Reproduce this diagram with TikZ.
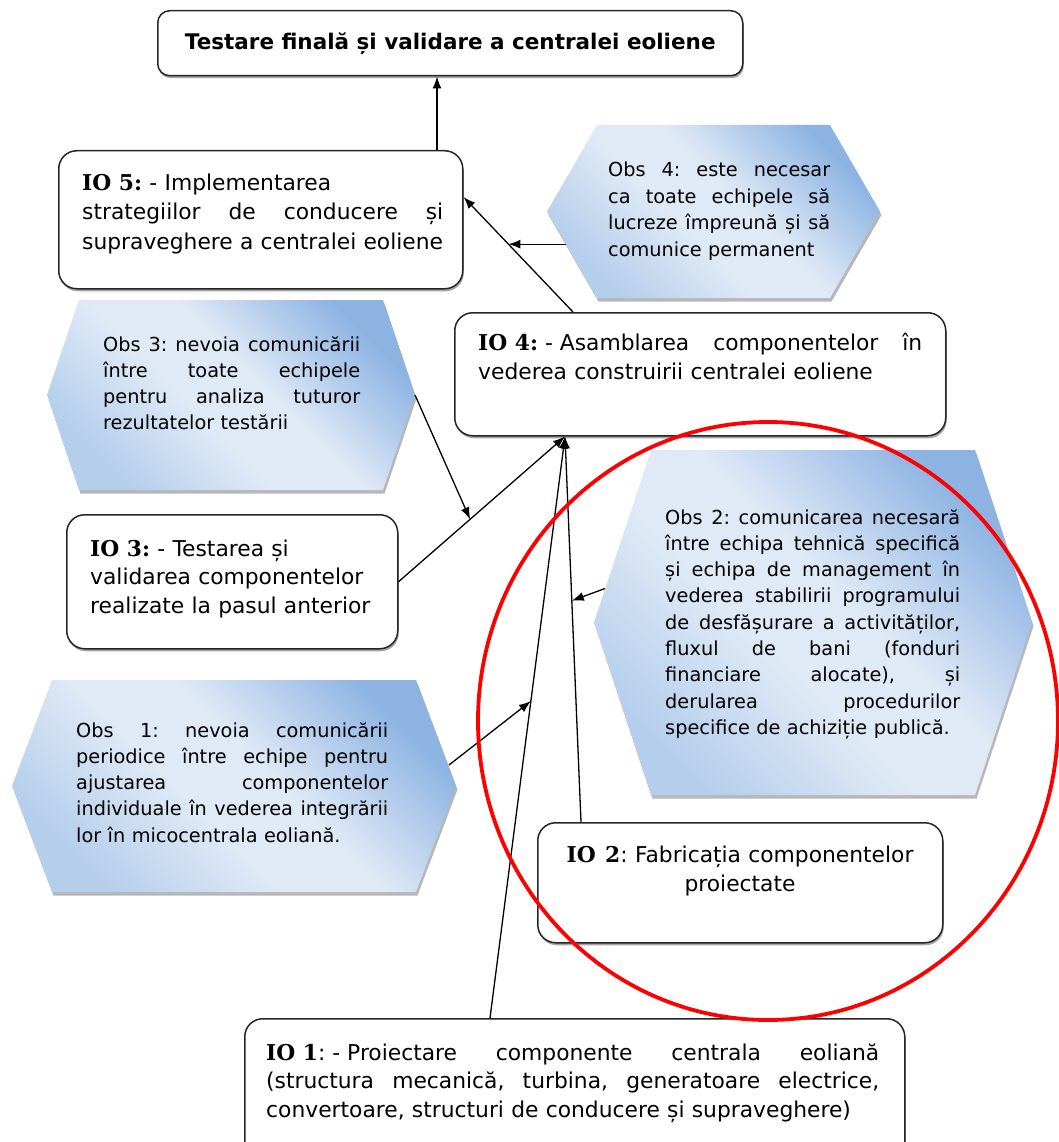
\documentclass[tikz,border=0pt]{standalone}
\usepackage{fontspec}
\setmainfont{DejaVu Sans}
\newfontfamily\iofont{DejaVu Serif}
\usetikzlibrary{arrows.meta,shadows,calc}

\definecolor{obsdark}{HTML}{8DB3E2}
\definecolor{obslight}{HTML}{E0EAF6}
\definecolor{obsmid}{HTML}{B4CEEC}
\definecolor{boxline}{HTML}{262626}

% diagonal gradient of the observation hexagons
\pgfdeclarehorizontalshading{obsshade}{100bp}{color(0bp)=(obsmid); color(25bp)=(obsmid); color(44bp)=(obslight); color(55bp)=(obslight); color(75bp)=(obsdark); color(100bp)=(obsdark)}

% bold label of an objective, with rigid spaces
\newcommand\io[1]{{\iofont\bfseries\spaceskip=0pt #1}}
% one justified line spanning the full text width
\newcommand\J[1]{\leavevmode\hbox to \hsize{\spaceskip=.32em plus 1fil\relax #1}}
% hexagon drawn inside the frame of a named node
\newcommand\hexpath[2]{%
  \path[obsfill] ($(#1.north west)+(#2,0)$) -- ($(#1.north east)+(-#2,0)$) -- (#1.east)
    -- ($(#1.south east)+(-#2,0)$) -- ($(#1.south west)+(#2,0)$) -- (#1.west) -- cycle;}

\begin{document}
\frenchspacing
\begin{tikzpicture}[x=1pt,y=-1pt,
  iobox/.style={draw=boxline, line width=1.5pt, rounded corners=18pt, fill=white, anchor=north west,
     drop shadow={shadow xshift=1pt, shadow yshift=-2.5pt, fill=black!50, opacity=.7}},
  frame/.style={inner sep=0pt, outer sep=0pt, anchor=north west},
  obsfill/.style={shading=obsshade, shading angle=45,
     drop shadow={shadow xshift=1.5pt, shadow yshift=-3.5pt, fill=black!35, opacity=.8}},
  iotext/.style={inner sep=0pt, text width=#1, align=left, anchor=base west,
     font=\fontsize{21.8}{29.5}\selectfont},
  obstext/.style={inner sep=0pt, text width=#1, align=left, anchor=base west,
     font=\fontsize{19.3}{26.3}\selectfont},
  link/.style={line width=1.3pt, -{Latex[length=12pt,width=9pt]}},
]
\fill[white] (0,0) rectangle (1059,1142);
\useasboundingbox (0,0) rectangle (1059,1142);

% objective boxes
\node[iobox, minimum width=585, minimum height=65, rounded corners=12pt,
      font=\bfseries\fontsize{21.5}{26}\selectfont] (title) at (157,10)
      {Testare finală și validare a centralei eoliene};
\node[iobox, minimum width=404, minimum height=138] (io5) at (58,150) {};
\node[iobox, minimum width=491, minimum height=123] (io4) at (454,312) {};
\node[iobox, minimum width=331, minimum height=134] (io3) at (66,514) {};
\node[iobox, minimum width=405, minimum height=120] (io2) at (537,822) {};
\node[iobox, minimum width=660, minimum height=142] (io1) at (244,1018) {};

% observation hexagons
\node[frame, minimum width=333, minimum height=173] (obs4) at (547,125) {};
\node[frame, minimum width=368, minimum height=190] (obs3) at (47,300) {};
\node[frame, minimum width=438, minimum height=345] (obs2) at (594,450) {};
\node[frame, minimum width=444, minimum height=212] (obs1) at (12,680) {};
\hexpath{obs4}{50}
\hexpath{obs3}{32}
\hexpath{obs2}{57}
\hexpath{obs1}{40}

% texts
\node[iotext=361] (io5t) at (82,190)
  {\io{IO 5:} - Implementarea\par\J{strategiilor de conducere și}\par supraveghere a centralei eoliene};
\node[iotext=444] (io4t) at (478,350)
  {\J{{\spaceskip=0pt\io{IO 4:} - }Asamblarea componentelor în}\par vederea construirii centralei eoliene};
\node[iotext=290, font=\fontsize{21.8}{28.5}\selectfont] (io3t) at (90,556)
  {\io{IO 3:} - Testarea și\par validarea componentelor\par realizate la pasul anterior};
\node[iotext=390, align=center, anchor=base] (io2t) at (740,862)
  {\io{IO 2}: Fabricația componentelor\par proiectate};
\node[iotext=613, font=\fontsize{21.8}{28.5}\selectfont] (io1t) at (266,1060)
  {\J{{\spaceskip=0pt\io{IO 1}: - }Proiectare componente centrala eoliană}\par
   \J{(structura mecanică, turbina, generatoare electrice,}\par
   convertoare, structuri de conducere și supraveghere)};

\node[obstext=222, font=\fontsize{19.3}{27}\selectfont] (obs4t) at (608,176)
  {\J{Obs 4: este necesar}\par\J{ca toate echipele să}\par\J{lucreze împreună și să}\par comunice permanent};
\node[obstext=257] (obs3t) at (103,351)
  {\J{Obs 3: nevoia comunicării}\par\J{între toate echipele}\par\J{pentru analiza tuturor}\par rezultatelor testării};
\node[obstext=295] (obs2t) at (665,524)
  {\J{Obs 2: comunicarea necesară}\par\J{între echipa tehnică specifică}\par
   \J{și echipa de management în}\par\J{vederea stabilirii programului}\par
   \J{de desfășurare a activităților,}\par\J{fluxul de bani (fonduri}\par
   \J{financiare alocate), și}\par\J{derularea procedurilor}\par
   specifice de achiziție publică.};
\node[obstext=312] (obs1t) at (76,737)
  {\J{Obs 1: nevoia comunicării}\par\J{periodice între echipe pentru}\par
   \J{ajustarea componentelor}\par\J{individuale în vederea integrării}\par
   lor în micocentrala eoliană.};

% connectors
\coordinate (hub) at ($(io4.south west)+(111,0)$);
\coordinate (c5) at ($(io5.north west)+(379,0)$);
\draw[link] (c5) -- (c5 |- title.south);
\coordinate (c4) at ($(io4.north west)+(119,0)$);
\coordinate (e5) at ($(io5.north east)+(0,47)$);
\draw[link] (c4) -- (e5);
\coordinate (k45) at ($(c4)!0.59!(e5)$);
\draw[link] ($(obs4.west |- k45)+(19,0)$) -- (k45);
\draw[link] (io3.east) -- (hub);
\coordinate (c2) at ($(io2.north west)+(44,0)$);
\draw[link] (c2) -- (hub);
\coordinate (c1) at ($(io1.north west)+(246,0)$);
\draw[link] (c1) -- (hub);
\draw[link] (obs3.east) -- ($(io3.east)!0.43!(hub)$);
\draw[link] ($(obs1.east)+(-7,-21)$) -- ($(c1)!0.545!(hub)$);
\draw[link] ($(obs2.west)+(11,-34)$) -- ($(c2)!0.574!(hub)$);

% highlight around the manufacturing step
\draw[red, line width=3.8pt] (768,721) ellipse [x radius=290, y radius=299];
\end{tikzpicture}
\end{document}
